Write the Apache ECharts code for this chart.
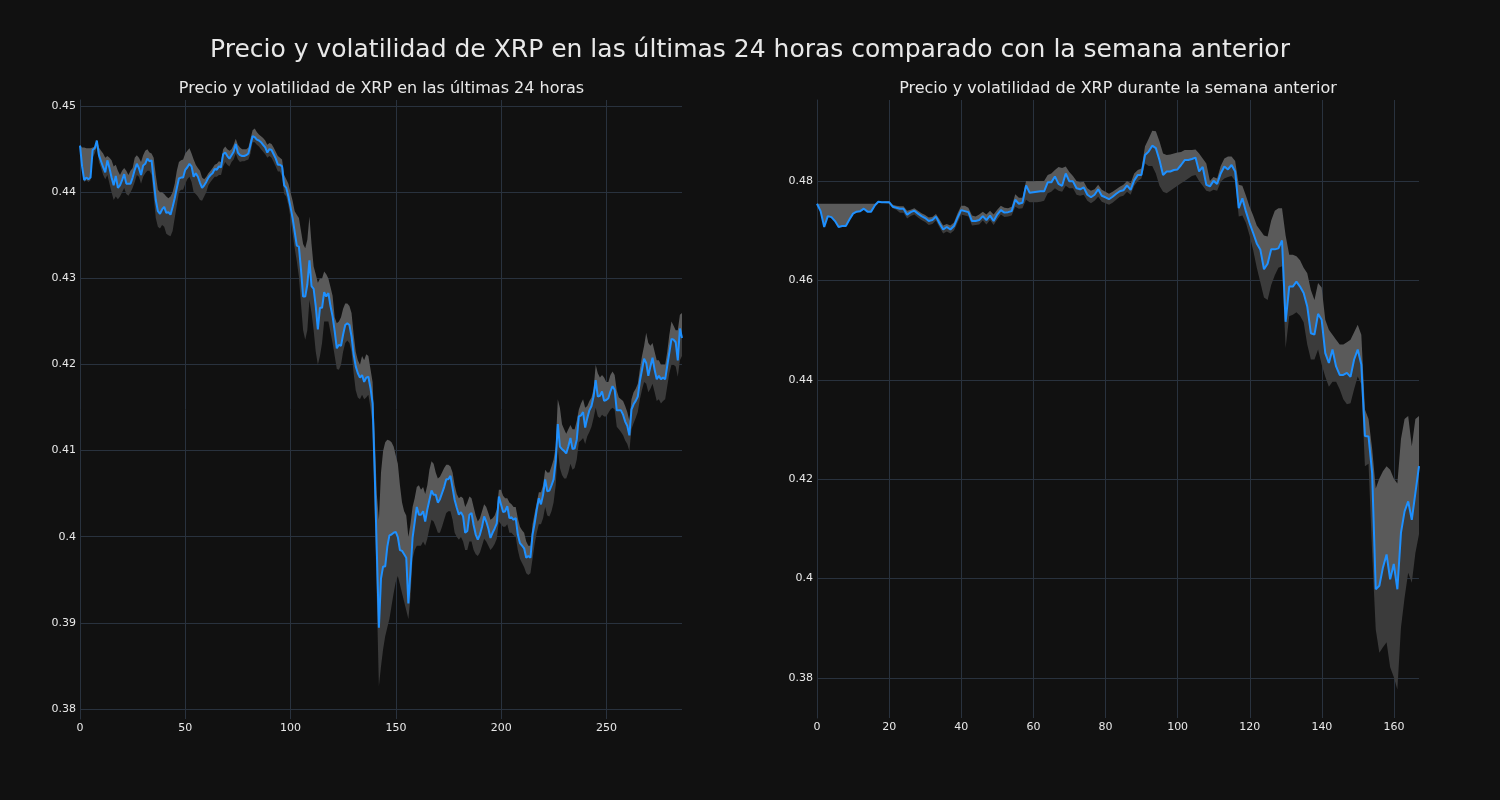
<!DOCTYPE html>
<html>
<head>
<meta charset="utf-8">
<script src="https://cdn.jsdelivr.net/npm/echarts@6/dist/echarts.min.js"></script>
<style>
html,body{margin:0;padding:0;background:#111111;}
#chart{width:1500px;height:800px;}
</style>
</head>
<body>
<div id="chart"></div>
<script>
// ---- Data: last 24 hours (5-minute steps) ----
const dayPrice = [
0.4454,0.4430,0.4414,0.4417,0.4415,0.4417,0.4449,0.4451,0.4460,0.4443,
0.4436,0.4429,0.4423,0.4437,0.4428,0.4417,0.4408,0.4419,0.4405,0.4408,
0.4414,0.4421,0.4410,0.4410,0.4410,0.4417,0.4426,0.4433,0.4428,0.4420,
0.4431,0.4433,0.4439,0.4436,0.4437,0.4414,0.4391,0.4378,0.4375,0.4380,
0.4383,0.4376,0.4377,0.4374,0.4383,0.4393,0.4405,0.4416,0.4417,0.4417,
0.4426,0.4429,0.4433,0.4430,0.4418,0.4422,0.4418,0.4411,0.4405,0.4408,
0.4412,0.4417,0.4420,0.4422,0.4427,0.4426,0.4430,0.4429,0.4444,0.4446,
0.4442,0.4439,0.4443,0.4447,0.4456,0.4446,0.4443,0.4442,0.4442,0.4443,
0.4445,0.4455,0.4465,0.4464,0.4461,0.4460,0.4458,0.4455,0.4452,0.4446,
0.4450,0.4449,0.4444,0.4439,0.4432,0.4432,0.4430,0.4408,0.4405,0.4395,
0.4383,0.4370,0.4354,0.4338,0.4337,0.4310,0.4279,0.4279,0.4293,0.4321,
0.4291,0.4288,0.4268,0.4241,0.4266,0.4266,0.4284,0.4279,0.4283,0.4268,
0.4256,0.4239,0.4219,0.4223,0.4222,0.4235,0.4246,0.4248,0.4246,0.4233,
0.4212,0.4198,0.4190,0.4185,0.4188,0.4180,0.4185,0.4186,0.4173,0.4155,
0.4076,0.3985,0.3895,0.3952,0.3966,0.3966,0.3989,0.4002,0.4003,0.4005,
0.4006,0.4000,0.3985,0.3984,0.3980,0.3976,0.3923,0.3960,0.3999,0.4017,
0.4035,0.4026,0.4026,0.4030,0.4018,0.4032,0.4043,0.4054,0.4049,0.4049,
0.4040,0.4044,0.4051,0.4058,0.4067,0.4067,0.4071,0.4057,0.4043,0.4034,
0.4026,0.4029,0.4024,0.4005,0.4007,0.4026,0.4028,0.4014,0.4003,0.3997,
0.4003,0.4012,0.4024,0.4018,0.4010,0.3999,0.4005,0.4010,0.4016,0.4047,
0.4038,0.4029,0.4030,0.4036,0.4022,0.4023,0.4020,0.4022,0.4003,0.3993,
0.3990,0.3987,0.3976,0.3978,0.3976,0.4003,0.4016,0.4032,0.4045,0.4038,
0.4049,0.4067,0.4053,0.4054,0.4060,0.4067,0.4088,0.4131,0.4105,0.4102,
0.4100,0.4097,0.4105,0.4115,0.4102,0.4103,0.4113,0.4140,0.4141,0.4145,
0.4127,0.4138,0.4147,0.4152,0.4163,0.4182,0.4163,0.4164,0.4169,0.4158,
0.4159,0.4161,0.4169,0.4175,0.4171,0.4147,0.4147,0.4147,0.4142,0.4134,
0.4129,0.4118,0.4148,0.4154,0.4158,0.4163,0.4181,0.4194,0.4207,0.4202,
0.4187,0.4198,0.4208,0.4194,0.4183,0.4187,0.4183,0.4185,0.4183,0.4199,
0.4214,0.4230,0.4229,0.4226,0.4205,0.4242,0.4231
];
const dayUpper = [
0.4455,0.4452,0.4452,0.4451,0.4451,0.4451,0.4452,0.4453,0.4461,0.4452,
0.4448,0.4445,0.4440,0.4442,0.4440,0.4437,0.4430,0.4432,0.4425,0.4420,
0.4425,0.4428,0.4425,0.4420,0.4425,0.4428,0.4440,0.4443,0.4440,0.4435,
0.4443,0.4448,0.4450,0.4446,0.4445,0.4440,0.4420,0.4403,0.4400,0.4400,
0.4398,0.4395,0.4393,0.4395,0.4400,0.4410,0.4425,0.4435,0.4437,0.4438,
0.4445,0.4448,0.4451,0.4445,0.4438,0.4432,0.4428,0.4425,0.4417,0.4415,
0.4418,0.4422,0.4425,0.4428,0.4432,0.4433,0.4436,0.4435,0.4450,0.4453,
0.4450,0.4448,0.4450,0.4455,0.4462,0.4455,0.4452,0.4450,0.4450,0.4450,
0.4452,0.4462,0.4472,0.4474,0.4470,0.4467,0.4465,0.4463,0.4460,0.4455,
0.4457,0.4456,0.4452,0.4447,0.4442,0.4440,0.4438,0.4420,0.4415,0.4410,
0.4400,0.4390,0.4378,0.4374,0.4370,0.4355,0.4340,0.4335,0.4345,0.4372,
0.4340,0.4314,0.4305,0.4295,0.4300,0.4300,0.4308,0.4305,0.4300,0.4290,
0.4280,0.4255,0.4248,0.4250,0.4255,0.4265,0.4271,0.4271,0.4268,0.4260,
0.4235,0.4215,0.4205,0.4200,0.4210,0.4205,0.4212,0.4210,0.4195,0.4180,
0.4120,0.4050,0.4020,0.4075,0.4100,0.4110,0.4113,0.4112,0.4110,0.4105,
0.4095,0.4085,0.4060,0.4040,0.4030,0.4025,0.4000,0.4015,0.4035,0.4045,
0.4058,0.4060,0.4055,0.4058,0.4050,0.4060,0.4078,0.4088,0.4085,0.4075,
0.4068,0.4070,0.4075,0.4080,0.4084,0.4084,0.4082,0.4075,0.4060,0.4050,
0.4045,0.4047,0.4045,0.4035,0.4040,0.4047,0.4045,0.4035,0.4025,0.4018,
0.4022,0.4030,0.4038,0.4035,0.4028,0.4020,0.4022,0.4025,0.4032,0.4055,
0.4055,0.4048,0.4045,0.4045,0.4040,0.4038,0.4035,0.4035,0.4022,0.4012,
0.4008,0.4005,0.3995,0.3990,0.3990,0.4015,0.4028,0.4040,0.4052,0.4052,
0.4060,0.4078,0.4075,0.4075,0.4082,0.4090,0.4105,0.4160,0.4150,0.4131,
0.4125,0.4120,0.4125,0.4130,0.4125,0.4125,0.4135,0.4148,0.4155,0.4160,
0.4150,0.4152,0.4158,0.4162,0.4172,0.4200,0.4190,0.4185,0.4188,0.4185,
0.4180,0.4180,0.4188,0.4192,0.4188,0.4170,0.4162,0.4160,0.4158,0.4152,
0.4145,0.4135,0.4160,0.4168,0.4172,0.4178,0.4195,0.4210,0.4222,0.4237,
0.4225,0.4222,0.4225,0.4215,0.4205,0.4205,0.4200,0.4200,0.4200,0.4215,
0.4235,0.4250,0.4245,0.4240,0.4240,0.4258,0.4260
];
const dayLower = [
0.4450,0.4428,0.4412,0.4414,0.4412,0.4414,0.4440,0.4445,0.4452,0.4435,
0.4428,0.4420,0.4415,0.4420,0.4410,0.4400,0.4391,0.4395,0.4392,0.4395,
0.4400,0.4405,0.4398,0.4396,0.4400,0.4405,0.4412,0.4420,0.4418,0.4410,
0.4418,0.4422,0.4425,0.4425,0.4420,0.4395,0.4370,0.4360,0.4358,0.4362,
0.4360,0.4352,0.4350,0.4349,0.4355,0.4370,0.4385,0.4400,0.4403,0.4403,
0.4410,0.4415,0.4418,0.4412,0.4400,0.4398,0.4395,0.4391,0.4390,0.4395,
0.4400,0.4408,0.4412,0.4415,0.4418,0.4418,0.4420,0.4420,0.4430,0.4435,
0.4432,0.4430,0.4435,0.4438,0.4445,0.4438,0.4435,0.4436,0.4436,0.4437,
0.4438,0.4445,0.4458,0.4458,0.4455,0.4453,0.4450,0.4447,0.4444,0.4440,
0.4442,0.4440,0.4435,0.4430,0.4424,0.4424,0.4418,0.4398,0.4395,0.4385,
0.4370,0.4352,0.4335,0.4320,0.4302,0.4270,0.4240,0.4229,0.4240,0.4275,
0.4260,0.4240,0.4215,0.4200,0.4210,0.4225,0.4250,0.4250,0.4250,0.4238,
0.4225,0.4210,0.4195,0.4194,0.4200,0.4215,0.4225,0.4228,0.4225,0.4215,
0.4190,0.4170,0.4162,0.4160,0.4165,0.4160,0.4162,0.4165,0.4150,0.4130,
0.4030,0.3930,0.3827,0.3850,0.3870,0.3885,0.3895,0.3905,0.3920,0.3935,
0.3948,0.3955,0.3945,0.3935,0.3925,0.3915,0.3905,0.3930,0.3975,0.3985,
0.3990,0.3990,0.3990,0.3995,0.3990,0.3998,0.4010,0.4020,0.4018,0.4012,
0.4005,0.4005,0.4012,0.4020,0.4028,0.4030,0.4030,0.4020,0.4005,0.4000,
0.3997,0.4000,0.3995,0.3985,0.3985,0.3995,0.3995,0.3985,0.3980,0.3978,
0.3982,0.3990,0.3998,0.3995,0.3990,0.3985,0.3988,0.3992,0.3998,0.4018,
0.4015,0.4012,0.4012,0.4015,0.4005,0.4005,0.4002,0.4000,0.3985,0.3975,
0.3970,0.3965,0.3958,0.3956,0.3958,0.3975,0.3992,0.4005,0.4015,0.4015,
0.4022,0.4035,0.4025,0.4024,0.4030,0.4040,0.4060,0.4102,0.4080,0.4072,
0.4068,0.4068,0.4075,0.4085,0.4078,0.4080,0.4090,0.4110,0.4112,0.4115,
0.4108,0.4117,0.4122,0.4128,0.4138,0.4150,0.4140,0.4138,0.4142,0.4140,
0.4140,0.4144,0.4148,0.4150,0.4148,0.4128,0.4125,0.4122,0.4118,0.4112,
0.4108,0.4100,0.4125,0.4132,0.4138,0.4145,0.4160,0.4171,0.4180,0.4178,
0.4168,0.4172,0.4178,0.4168,0.4158,0.4160,0.4155,0.4158,0.4160,0.4175,
0.4190,0.4200,0.4200,0.4198,0.4186,0.4205,0.4210
];

// ---- Data: previous week (hourly) ----
const weekPrice = [
0.4754,0.4739,0.4707,0.4729,0.4727,0.4719,0.4707,0.4709,0.4709,0.4722,
0.4734,0.4738,0.4739,0.4744,0.4738,0.4738,0.4750,0.4758,0.4757,0.4757,
0.4757,0.4748,0.4746,0.4744,0.4744,0.4732,0.4737,0.4740,0.4734,0.4729,
0.4725,0.4719,0.4721,0.4728,0.4714,0.4702,0.4707,0.4702,0.4709,0.4726,
0.4741,0.4739,0.4737,0.4719,0.4719,0.4721,0.4729,0.4721,0.4730,0.4719,
0.4732,0.4741,0.4736,0.4737,0.4739,0.4762,0.4754,0.4756,0.4791,0.4776,
0.4777,0.4778,0.4779,0.4779,0.4797,0.4797,0.4809,0.4794,0.4790,0.4815,
0.4799,0.4799,0.4785,0.4783,0.4787,0.4772,0.4767,0.4772,0.4783,0.4770,
0.4767,0.4763,0.4768,0.4774,0.4779,0.4781,0.4791,0.4782,0.4801,0.4812,
0.4812,0.4852,0.4859,0.4871,0.4866,0.4842,0.4812,0.4819,0.4819,0.4822,
0.4823,0.4832,0.4842,0.4842,0.4844,0.4847,0.4819,0.4828,0.4792,0.4789,
0.4800,0.4794,0.4815,0.4829,0.4823,0.4832,0.4819,0.4745,0.4765,0.4738,
0.4715,0.4695,0.4674,0.4661,0.4622,0.4633,0.4662,0.4662,0.4664,0.4680,
0.4516,0.4587,0.4587,0.4597,0.4587,0.4574,0.4547,0.4493,0.4490,0.4532,
0.4520,0.4453,0.4433,0.4460,0.4426,0.4409,0.4409,0.4413,0.4405,0.4440,
0.4460,0.4430,0.4286,0.4285,0.4211,0.3977,0.3984,0.4021,0.4047,0.3997,
0.4028,0.3977,0.4091,0.4134,0.4154,0.4117,0.4171,0.4225
];
const weekUpper = [
0.4754,0.4754,0.4754,0.4754,0.4754,0.4754,0.4754,0.4754,0.4754,0.4754,
0.4754,0.4754,0.4754,0.4754,0.4754,0.4754,0.4754,0.4758,0.4758,0.4759,
0.4759,0.4752,0.4750,0.4749,0.4749,0.4740,0.4742,0.4745,0.4740,0.4735,
0.4731,0.4726,0.4727,0.4733,0.4722,0.4710,0.4713,0.4710,0.4716,0.4735,
0.4750,0.4750,0.4746,0.4730,0.4728,0.4732,0.4738,0.4732,0.4740,0.4732,
0.4742,0.4750,0.4746,0.4745,0.4748,0.4773,0.4766,0.4766,0.4800,0.4799,
0.4799,0.4800,0.4800,0.4800,0.4812,0.4815,0.4822,0.4828,0.4826,0.4829,
0.4818,0.4810,0.4800,0.4797,0.4798,0.4785,0.4780,0.4783,0.4792,0.4782,
0.4778,0.4774,0.4778,0.4783,0.4788,0.4792,0.4800,0.4795,0.4815,0.4822,
0.4825,0.4870,0.4885,0.4901,0.4900,0.4880,0.4855,0.4852,0.4853,0.4855,
0.4857,0.4858,0.4862,0.4862,0.4862,0.4863,0.4855,0.4845,0.4835,0.4800,
0.4808,0.4805,0.4830,0.4845,0.4849,0.4849,0.4840,0.4792,0.4790,0.4770,
0.4748,0.4730,0.4710,0.4700,0.4690,0.4688,0.4720,0.4740,0.4745,0.4745,
0.4690,0.4651,0.4651,0.4648,0.4640,0.4625,0.4614,0.4580,0.4560,0.4594,
0.4585,0.4520,0.4500,0.4490,0.4480,0.4470,0.4470,0.4475,0.4480,0.4495,
0.4510,0.4490,0.4339,0.4320,0.4260,0.4180,0.4200,0.4215,0.4225,0.4218,
0.4200,0.4190,0.4280,0.4320,0.4326,0.4265,0.4320,0.4326
];
const weekLower = [
0.4753,0.4738,0.4706,0.4728,0.4726,0.4718,0.4706,0.4708,0.4708,0.4721,
0.4733,0.4737,0.4738,0.4743,0.4737,0.4737,0.4749,0.4756,0.4756,0.4755,
0.4754,0.4745,0.4742,0.4736,0.4736,0.4724,0.4729,0.4732,0.4726,0.4721,
0.4717,0.4711,0.4713,0.4720,0.4706,0.4694,0.4698,0.4694,0.4700,0.4716,
0.4732,0.4730,0.4728,0.4710,0.4711,0.4712,0.4720,0.4712,0.4721,0.4711,
0.4722,0.4732,0.4727,0.4728,0.4730,0.4748,0.4744,0.4745,0.4762,0.4757,
0.4757,0.4757,0.4758,0.4760,0.4775,0.4778,0.4785,0.4780,0.4778,0.4790,
0.4785,0.4785,0.4772,0.4770,0.4772,0.4760,0.4755,0.4760,0.4768,0.4758,
0.4755,0.4752,0.4756,0.4762,0.4768,0.4770,0.4778,0.4772,0.4790,0.4800,
0.4805,0.4835,0.4830,0.4830,0.4815,0.4790,0.4778,0.4775,0.4780,0.4785,
0.4790,0.4795,0.4800,0.4805,0.4810,0.4812,0.4800,0.4790,0.4780,0.4778,
0.4782,0.4780,0.4798,0.4805,0.4808,0.4810,0.4800,0.4728,0.4730,0.4715,
0.4690,0.4660,0.4625,0.4595,0.4565,0.4560,0.4590,0.4610,0.4625,0.4628,
0.4463,0.4527,0.4530,0.4535,0.4528,0.4515,0.4470,0.4440,0.4440,0.4460,
0.4430,0.4405,0.4385,0.4395,0.4395,0.4380,0.4360,0.4350,0.4352,0.4380,
0.4406,0.4390,0.4225,0.4230,0.4050,0.3896,0.3849,0.3860,0.3870,0.3820,
0.3800,0.3775,0.3900,0.3960,0.4010,0.3990,0.4050,0.4088
];

// ---- Tick labels ----
const dayXTicks = [0, 50, 100, 150, 200, 250];
const dayYTicks = [0.38, 0.39, 0.40, 0.41, 0.42, 0.43, 0.44, 0.45];
const weekXTicks = [0, 20, 40, 60, 80, 100, 120, 140, 160];
const weekYTicks = [0.38, 0.40, 0.42, 0.44, 0.46, 0.48];

const mainTitle = 'Precio y volatilidad de XRP en las últimas 24 horas comparado con la semana anterior';
const dayTitle = 'Precio y volatilidad de XRP en las últimas 24 horas';
const weekTitle = 'Precio y volatilidad de XRP durante la semana anterior';

// ---- Styling ----
const FONT = 'DejaVu Sans';
const GRID_COLOR = '#29323e';
const TEXT_COLOR = '#e8e8e8';
const LINE_COLOR = '#1e90ff';
const BAND_DARK = '#3b3b3b';
const BAND_LIGHT = '#5a5a5a';

function fmtY(v) { return String(parseFloat(v.toFixed(4))); }

function bandSeries(price, upper, lower, axisIdx, stackName) {
  const base = [], dark = [], light = [];
  for (let i = 0; i < price.length; i++) {
    const p = price[i];
    const lo = Math.min(lower[i], p);
    const hi = Math.max(upper[i], p);
    base.push(lo);
    dark.push(p - lo);
    light.push(hi - p);
  }
  const common = {
    type: 'line', xAxisIndex: axisIdx, yAxisIndex: axisIdx, stack: stackName,
    symbol: 'none', silent: true, animation: false,
    lineStyle: { opacity: 0, width: 0 }
  };
  return [
    Object.assign({}, common, { data: base }),
    Object.assign({}, common, { data: dark, areaStyle: { color: BAND_DARK, opacity: 1 } }),
    Object.assign({}, common, { data: light, areaStyle: { color: BAND_LIGHT, opacity: 1 } }),
    { type: 'line', xAxisIndex: axisIdx, yAxisIndex: axisIdx, data: price.slice(), symbol: 'none',
      silent: true, animation: false, z: 5,
      lineStyle: { color: LINE_COLOR, width: 2 } }
  ];
}

const dataX = (n, gi) => ({
  type: 'category', gridIndex: gi, boundaryGap: false,
  data: Array.from({ length: n }, (_, i) => String(i)), show: false
});
const dataY = (min, max, gi) => ({
  type: 'value', gridIndex: gi, min: min, max: max,
  axisLine: { show: true, lineStyle: { color: GRID_COLOR, width: 1 } },
  axisTick: { show: false }, axisLabel: { show: false }, splitLine: { show: false }
});
const labelY = (ticks, gi) => ({
  type: 'value', gridIndex: gi, min: ticks[0], max: ticks[ticks.length - 1],
  interval: +(ticks[1] - ticks[0]).toFixed(4),
  axisLine: { show: false }, axisTick: { show: false },
  axisLabel: { color: TEXT_COLOR, fontFamily: FONT, fontSize: 11, margin: 4, formatter: fmtY },
  splitLine: { show: true, lineStyle: { color: GRID_COLOR, width: 1 } }
});
const labelX = (ticks, gi) => ({
  type: 'value', gridIndex: gi, min: ticks[0], max: ticks[ticks.length - 1],
  interval: ticks[1] - ticks[0],
  axisLine: { show: false }, axisTick: { show: false },
  axisLabel: { color: TEXT_COLOR, fontFamily: FONT, fontSize: 11, margin: 4 },
  splitLine: { show: true, lineStyle: { color: GRID_COLOR, width: 1 } }
});

const chart = echarts.init(document.getElementById('chart'), null, { renderer: 'canvas' });

const option = {
  backgroundColor: '#111111',
  animation: false,
  title: [
    { text: mainTitle, left: 750, top: 38, textAlign: 'center', padding: 0,
      textStyle: { color: TEXT_COLOR, fontFamily: FONT, fontSize: 25, fontWeight: 'normal' } },
    { text: dayTitle, left: 381.5, top: 81, textAlign: 'center', padding: 0,
      textStyle: { color: TEXT_COLOR, fontFamily: FONT, fontSize: 16, fontWeight: 'normal' } },
    { text: weekTitle, left: 1118, top: 81, textAlign: 'center', padding: 0,
      textStyle: { color: TEXT_COLOR, fontFamily: FONT, fontSize: 16, fontWeight: 'normal' } }
  ],
  grid: [
    // data grids
    { left: 80, top: 100, width: 602, height: 619 },
    { left: 817, top: 100, width: 602, height: 618 },
    // horizontal grid lines + y labels
    { left: 80, top: 106, width: 602, height: 603 },
    { left: 817, top: 181, width: 602, height: 497 },
    // vertical grid lines + x labels
    { left: 80, top: 100, width: 526.5, height: 619 },
    { left: 817, top: 100, width: 577, height: 618 }
  ],
  xAxis: [
    dataX(dayPrice.length, 0),
    dataX(weekPrice.length, 1),
    { type: 'value', gridIndex: 2, show: false },
    { type: 'value', gridIndex: 3, show: false },
    labelX(dayXTicks, 4),
    labelX(weekXTicks, 5)
  ],
  yAxis: [
    dataY(0.3789, 0.4507, 0),
    dataY(0.37175, 0.4963, 1),
    labelY(dayYTicks, 2),
    labelY(weekYTicks, 3),
    { type: 'value', gridIndex: 4, show: false },
    { type: 'value', gridIndex: 5, show: false }
  ],
  series: [].concat(
    bandSeries(dayPrice, dayUpper, dayLower, 0, 'dayBand'),
    bandSeries(weekPrice, weekUpper, weekLower, 1, 'weekBand')
  )
};
chart.setOption(option);
</script>
</body>
</html>
